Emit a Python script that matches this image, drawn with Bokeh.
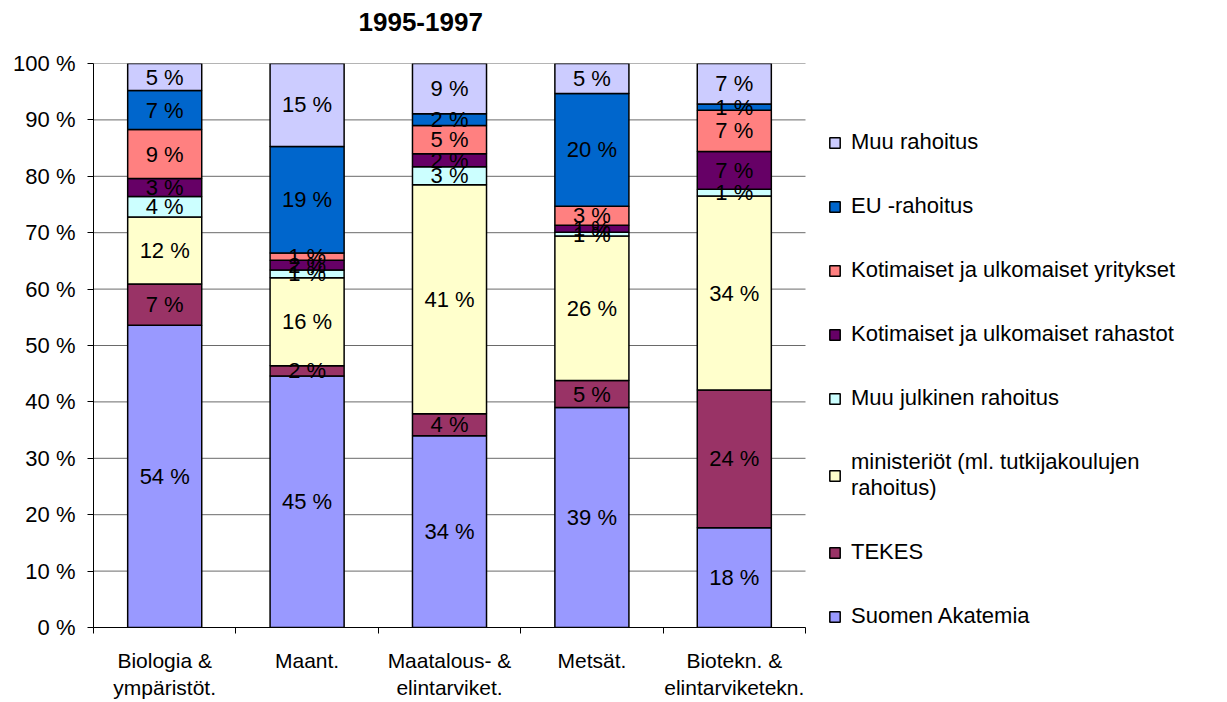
from bokeh.plotting import figure
from bokeh.models import (ColumnDataSource, FixedTicker, Legend, LegendItem, Range1d, Title)
from bokeh.core.properties import value
from bokeh.embed import file_html
from bokeh.resources import INLINE

# ---- data ----
categories = ["Biologia &\nympäristöt.", "Maant.", "Maatalous- &\nelintarviket.",
              "Metsät.", "Biotekn. &\nelintarviketekn."]
series_names = ["Suomen Akatemia", "TEKES", "ministeriöt (ml. tutkijakoulujen\nrahoitus)",
                "Muu julkinen rahoitus", "Kotimaiset ja ulkomaiset rahastot",
                "Kotimaiset ja ulkomaiset yritykset", "EU -rahoitus", "Muu rahoitus"]
suomen_akatemia = [53.6, 44.6, 34.0, 39.0, 17.7]
tekes = [7.3, 1.8, 3.9, 4.8, 24.4]
ministeriot = [11.9, 15.6, 40.6, 25.6, 34.4]
muu_julkinen = [3.6, 1.4, 3.2, 0.7, 1.2]
rahastot = [3.2, 1.7, 2.3, 1.2, 6.7]
yritykset = [8.7, 1.3, 5.0, 3.4, 7.3]
eu_rahoitus = [6.9, 18.9, 2.1, 20.0, 1.1]
muu_rahoitus = [4.8, 14.7, 8.9, 5.3, 7.2]
colors = ["#9999FF", "#993366", "#FFFFCC", "#CCFFFF", "#660066", "#FF8080", "#0066CC", "#CCCCFF"]
y_ticks = [0, 10, 20, 30, 40, 50, 60, 70, 80, 90, 100]
title_text = "1995-1997"

series = [suomen_akatemia, tekes, ministeriot, muu_julkinen, rahastot, yritykset,
          eu_rahoitus, muu_rahoitus]
keys = ["s%d" % i for i in range(len(series))]
xs = list(range(1, len(categories) + 1))
x_lo, x_hi = 0.5, len(categories) + 0.5

data = {"x": xs}
for k, s in zip(keys, series):
    data[k] = s
source = ColumnDataSource(data)

FONT = "Liberation Sans"
W, H = 1220, 702
LEFT = 93
PLOT_W = 712  # pixel width of the category area
# extend the x range to the right so the legend can sit inside the frame
x_end = x_lo + (W - LEFT) * (x_hi - x_lo) / PLOT_W

p = figure(width=W, height=H, output_backend="svg", toolbar_location=None,
           x_range=Range1d(x_lo, x_end), y_range=Range1d(0, 100),
           min_border_left=LEFT, min_border_right=0, min_border_top=63, min_border_bottom=0)
p.outline_line_color = None
p.background_fill_color = "white"
p.border_fill_color = "white"

p.title.text = title_text
p.title.align = "left"
p.title.offset = 265
p.title.standoff = 10
p.title.text_font = FONT
p.title.text_font_size = "26px"
p.title.text_font_style = "bold"
p.title.text_color = "black"
# invisible spacer between the title and the plot area
p.add_layout(Title(text=" ", text_font_size="1px", standoff=25, text_color="white"), "above")

# horizontal gridlines over the category area only
p.xgrid.grid_line_color = None
p.ygrid.grid_line_color = None
p.segment(x0=[x_lo] * len(y_ticks), x1=[x_hi] * len(y_ticks), y0=y_ticks, y1=y_ticks,
          line_color="#6a6a6a", line_width=1)

renderers = p.vbar_stack(keys, x="x", width=0.52, source=source, fill_color=colors,
                         line_color="black", line_width=1.5)

# segment labels
lx, ly, lt = [], [], []
for i, x in enumerate(xs):
    base = 0.0
    for s in series:
        v = s[i]
        lx.append(x)
        ly.append(base + v / 2.0)
        lt.append("%d %%" % int(v + 0.5))
        base += v
p.text(x=lx, y=ly, text=lt, text_align="center", text_baseline="middle",
       text_font=value(FONT), text_font_size="22px", text_color="black")

# axes
p.yaxis.ticker = FixedTicker(ticks=y_ticks)
p.yaxis.major_label_overrides = {t: "%d %%" % t for t in y_ticks}
p.yaxis.major_label_text_font = FONT
p.yaxis.major_label_text_font_size = "22px"
p.yaxis.major_label_text_color = "black"
p.yaxis.major_tick_out = 6
p.yaxis.major_tick_in = 0
p.yaxis.minor_tick_line_color = None
p.yaxis.major_label_standoff = 12
p.yaxis.axis_line_color = "black"
p.yaxis.major_tick_line_color = "black"

p.xaxis.bounds = (x_lo, x_hi)
p.xaxis.ticker = FixedTicker(ticks=xs, minor_ticks=[x - 0.5 for x in xs] + [xs[-1] + 0.5])
p.xaxis.major_label_overrides = {x: c for x, c in zip(xs, categories)}
p.xaxis.major_label_text_font = FONT
p.xaxis.major_label_text_font_size = "21px"
p.xaxis.major_label_text_color = "black"
p.xaxis.major_tick_line_color = None
p.xaxis.major_tick_out = 0
p.xaxis.major_tick_in = 0
p.xaxis.minor_tick_out = 6
p.xaxis.minor_tick_in = 0
p.xaxis.minor_tick_line_color = "black"
p.xaxis.axis_line_color = "black"
p.xaxis.major_label_standoff = 15

# legend (top entry = top segment), right of the bars
items = [LegendItem(label=series_names[i], renderers=[renderers[i]])
         for i in reversed(range(len(series)))]
legend = Legend(items=items, location=(PLOT_W + 23, -2), orientation="vertical",
                label_text_font=FONT, label_text_font_size="22px", label_text_color="black",
                glyph_width=13, glyph_height=13, label_standoff=10,
                spacing=38, padding=0, margin=0,
                border_line_color=None, background_fill_alpha=0)
p.add_layout(legend, "center")

open("out.html", "w").write(file_html(p, INLINE))
